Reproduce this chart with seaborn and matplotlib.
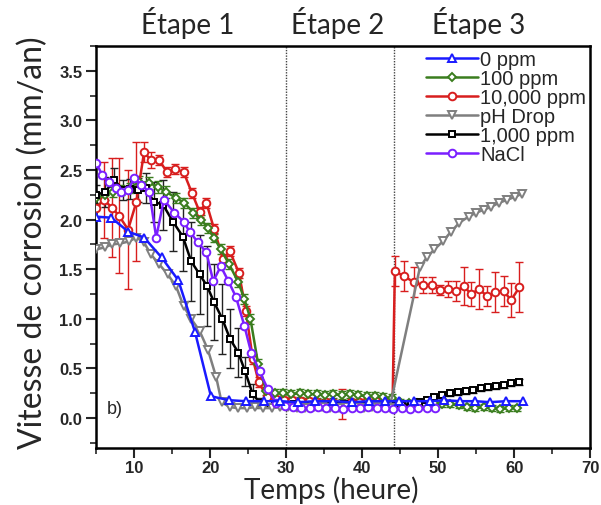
import matplotlib
matplotlib.use("Agg")
import matplotlib.pyplot as plt
from matplotlib.ticker import MultipleLocator
import seaborn as sns

# ---- data ----
# 0 ppm (blue)
t_0ppm = [5.0, 7.0, 9.2, 11.3, 13.6, 15.8, 18.0, 20.1, 22.5, 24.7,
          27.1, 29.2, 31.6, 33.8, 36.2, 38.6, 40.9, 43.0,
          44.9, 46.8, 48.9, 50.8, 52.9, 54.9, 56.8, 58.9, 61.1]
v_0ppm = [2.03, 2.02, 1.88, 1.82, 1.62, 1.39, 0.87, 0.22, 0.18, 0.17,
          0.17, 0.17, 0.16, 0.17, 0.17, 0.16, 0.17, 0.17,
          0.17, 0.17, 0.17, 0.18, 0.17, 0.17, 0.16, 0.17, 0.17]

# 100 ppm (green)
t_100ppm = [5.0, 6.1, 7.2, 8.3, 9.4, 10.7, 12.0, 13.1, 14.2, 15.5,
            16.6, 17.8, 18.8, 19.7, 20.5, 21.4, 22.5, 23.7, 24.5, 25.3,
            26.3, 27.4, 28.5, 29.6, 30.7, 31.8, 32.9, 34.0, 35.1, 36.2,
            37.3, 38.4, 39.5, 40.6, 41.7, 42.8, 43.9, 45.0, 46.1, 47.2,
            48.3, 49.4, 50.5, 51.6, 52.7, 53.8, 54.9, 56.0, 57.1, 58.2,
            59.3, 60.4]
v_100ppm = [2.22, 2.25, 2.28, 2.30, 2.32, 2.38, 2.37, 2.33, 2.28, 2.22,
            2.17, 2.07, 2.00, 1.92, 1.82, 1.70, 1.55, 1.37, 1.20, 1.00,
            0.55, 0.27, 0.25, 0.25, 0.24, 0.25, 0.24, 0.24, 0.23, 0.24,
            0.23, 0.24, 0.23, 0.22, 0.22, 0.21, 0.20, 0.16, 0.15, 0.15,
            0.14, 0.15, 0.14, 0.14, 0.13, 0.11, 0.10, 0.11, 0.10, 0.09,
            0.10, 0.10]
e_100ppm = [0.05, 0.05, 0.05, 0.05, 0.05, 0.06, 0.06, 0.06, 0.06, 0.05,
            0.05, 0.05, 0.05, 0.05, 0.05, 0.05, 0.05, 0.05, 0.05, 0.05,
            0.05, 0.04, 0.04, 0.04, 0.04, 0.04, 0.04, 0.04, 0.04, 0.04,
            0.04, 0.04, 0.04, 0.04, 0.04, 0.04, 0.04, 0.03, 0.03, 0.03,
            0.03, 0.03, 0.03, 0.03, 0.03, 0.03, 0.03, 0.03, 0.03, 0.03,
            0.03, 0.03]

# 10,000 ppm (red)
t_10000ppm = [5.0, 6.0, 7.1, 8.0, 9.2, 10.3, 11.3, 12.2, 13.3, 14.3,
              15.4, 16.5, 17.6, 18.6, 19.5, 20.5, 21.7, 22.6, 23.8, 24.7,
              25.6, 26.4, 27.5, 28.6, 29.7, 30.8, 31.9, 33.0, 34.1, 35.2,
              36.3, 37.4, 38.5, 39.6, 40.7, 41.8, 42.9, 44.0, 44.3, 45.5,
              46.8, 48.0, 49.2, 50.3, 51.3, 52.4, 53.4, 54.3, 55.4, 56.4,
              57.5, 58.6, 59.6, 60.7]
v_10000ppm = [2.12, 2.20, 2.12, 2.04, 1.90, 2.18, 2.68, 2.60, 2.60, 2.48,
              2.51, 2.48, 2.27, 2.08, 2.17, 1.91, 1.60, 1.68, 1.46, 1.08,
              0.60, 0.36, 0.21, 0.19, 0.18, 0.18, 0.17, 0.17, 0.16, 0.16,
              0.15, 0.14, 0.16, 0.16, 0.17, 0.17, 0.16, 0.15, 1.48, 1.43,
              1.37, 1.34, 1.34, 1.29, 1.30, 1.28, 1.33, 1.25, 1.30, 1.23,
              1.27, 1.28, 1.19, 1.32]
e_10000ppm = [0.10, 0.38, 0.50, 0.58, 0.60, 0.60, 0.10, 0.08, 0.05, 0.05,
              0.05, 0.05, 0.05, 0.05, 0.05, 0.05, 0.05, 0.05, 0.05, 0.05,
              0.05, 0.05, 0.03, 0.03, 0.03, 0.03, 0.03, 0.03, 0.03, 0.03,
              0.03, 0.15, 0.03, 0.03, 0.03, 0.03, 0.03, 0.03, 0.15, 0.15,
              0.15, 0.08, 0.08, 0.05, 0.08, 0.10, 0.19, 0.12, 0.20, 0.10,
              0.20, 0.15, 0.17, 0.25]

# pH Drop (grey)
t_ph = [5.0, 6.1, 7.1, 8.2, 9.3, 10.3, 11.3, 12.2, 13.3, 14.4,
        15.5, 16.5, 17.5, 18.6, 19.7, 20.8, 21.5, 22.6, 23.7, 24.8,
        25.9, 27.0, 28.1, 29.2, 30.3, 31.4, 32.5, 33.6, 34.7, 35.8,
        36.9, 38.0, 39.1, 40.2, 41.3, 42.4, 43.6, 47.6, 48.5, 49.5,
        50.6, 51.7, 52.8, 54.0, 55.0, 56.0, 57.0, 58.0, 59.1, 60.1,
        61.0]
v_ph = [1.70, 1.72, 1.75, 1.76, 1.78, 1.82, 1.77, 1.65, 1.55, 1.45,
        1.33, 1.13, 1.00, 0.88, 0.69, 0.41, 0.16, 0.11, 0.10, 0.10,
        0.11, 0.10, 0.10, 0.11, 0.11, 0.10, 0.10, 0.11, 0.11, 0.10,
        0.10, 0.11, 0.11, 0.10, 0.11, 0.11, 0.10, 1.52, 1.62, 1.70,
        1.78, 1.88, 1.97, 2.03, 2.07, 2.10, 2.13, 2.17, 2.20, 2.23,
        2.26]

# 1,000 ppm (black)
t_1000ppm = [5.0, 6.2, 7.4, 8.5, 9.4, 10.5, 11.5, 12.6, 13.8, 15.1,
             16.4, 17.5, 18.6, 19.6, 20.5, 21.6, 22.6, 23.7, 24.6, 25.6,
             26.6, 27.7, 28.8, 29.9, 31.0, 32.1, 33.2, 34.3, 35.4, 36.5,
             37.6, 38.7, 39.8, 40.9, 42.0, 43.1, 44.2, 45.3, 46.4, 47.5,
             48.5, 49.5, 50.5, 51.6, 52.6, 53.6, 54.6, 55.6, 56.6, 57.6,
             58.6, 59.6, 60.6]
v_1000ppm = [2.25, 2.28, 2.40, 2.30, 2.31, 2.30, 2.32, 2.18, 2.15, 1.98,
             1.83, 1.58, 1.45, 1.33, 1.17, 1.00, 0.80, 0.66, 0.47, 0.24,
             0.15, 0.14, 0.14, 0.13, 0.14, 0.13, 0.13, 0.14, 0.13, 0.13,
             0.14, 0.13, 0.13, 0.13, 0.14, 0.13, 0.12, 0.13, 0.14, 0.16,
             0.18, 0.21, 0.23, 0.25, 0.26, 0.27, 0.28, 0.30, 0.31, 0.32,
             0.33, 0.35, 0.36]
e_1000ppm = [0.10, 0.15, 0.12, 0.10, 0.10, 0.12, 0.15, 0.20, 0.25, 0.30,
             0.35, 0.40, 0.40, 0.40, 0.38, 0.35, 0.30, 0.25, 0.15, 0.10,
             0.05, 0.03, 0.03, 0.03, 0.03, 0.03, 0.03, 0.03, 0.03, 0.03,
             0.03, 0.03, 0.03, 0.03, 0.03, 0.03, 0.03, 0.03, 0.03, 0.03,
             0.03, 0.03, 0.03, 0.03, 0.03, 0.03, 0.03, 0.03, 0.03, 0.03,
             0.03, 0.03, 0.03]

# NaCl (purple)
t_nacl = [5.0, 5.8, 6.7, 7.6, 8.3, 9.2, 10.0, 10.9, 12.0, 12.9,
          13.9, 15.3, 16.5, 17.3, 18.4, 19.5, 20.4, 21.4, 22.4, 23.4,
          24.5, 25.4, 26.5, 27.6, 28.7, 29.8, 30.9, 32.0, 33.1, 34.2,
          35.3, 36.4, 37.5, 38.6, 39.7, 40.8, 41.9, 43.0, 44.1, 45.2,
          46.3, 47.4, 48.5, 49.6]
v_nacl = [2.57, 2.45, 2.38, 2.32, 2.28, 2.30, 2.42, 2.35, 2.28, 1.82,
          2.20, 2.07, 1.98, 1.88, 1.77, 1.67, 1.38, 1.53, 1.38, 1.22,
          0.93, 0.66, 0.47, 0.29, 0.15, 0.12, 0.11, 0.10, 0.10, 0.11,
          0.10, 0.10, 0.09, 0.10, 0.10, 0.11, 0.10, 0.10, 0.09, 0.10,
          0.09, 0.10, 0.10, 0.10]

legend_order = ["0 ppm", "100 ppm", "10,000 ppm", "pH Drop", "1,000 ppm", "NaCl"]
stage_labels = ["Étape 1", "Étape 2", "Étape 3"]
stage_pos = [17.1, 36.8, 55.3]
stage_bounds = [30.0, 44.2]

sns.set_style("ticks")
plt.rcParams['font.family'] = ['Liberation Sans', 'DejaVu Sans']

fig = plt.figure(figsize=(6.01, 5.06), dpi=100)
ax = fig.add_axes([0.16, 0.113, 0.822, 0.794])

# error bars first
ax.errorbar(t_10000ppm, v_10000ppm, yerr=e_10000ppm, fmt='none', ecolor='#d81e1e',
            elinewidth=1.0, capsize=3, capthick=1.0, zorder=2)
ax.errorbar(t_1000ppm, v_1000ppm, yerr=e_1000ppm, fmt='none', ecolor='#222222',
            elinewidth=1.0, capsize=3, capthick=1.0, zorder=2)
ax.errorbar(t_100ppm, v_100ppm, yerr=e_100ppm, fmt='none', ecolor='#3a7d1e',
            elinewidth=1.0, capsize=3, capthick=1.0, zorder=2)

series = [
    ("10,000 ppm", t_10000ppm, v_10000ppm, '#d81e1e', 'o', 5.5),
    ("100 ppm", t_100ppm, v_100ppm, '#3a7d1e', 'D', 4.5),
    ("1,000 ppm", t_1000ppm, v_1000ppm, '#000000', 's', 4.5),
    ("pH Drop", t_ph, v_ph, '#7f7f7f', 'v', 5.8),
    ("NaCl", t_nacl, v_nacl, '#7a1fff', 'o', 5.5),
    ("0 ppm", t_0ppm, v_0ppm, '#1a1aff', '^', 5.8),
]
for name, t, v, c, m, ms in series:
    sns.lineplot(x=t, y=v, ax=ax, color=c, marker=m, markersize=ms,
                 markerfacecolor='white', markeredgecolor=c, markeredgewidth=1.4,
                 linewidth=1.8, sort=False, estimator=None, label=name, zorder=3)

for xb in stage_bounds:
    ax.axvline(xb, color='#444444', linestyle=(0, (1, 1)), linewidth=1.0, zorder=1)

ax.set_xlim(5, 70)
ax.set_ylim(-0.3, 3.75)
ax.xaxis.set_major_locator(MultipleLocator(10))
ax.xaxis.set_minor_locator(MultipleLocator(5))
ax.yaxis.set_minor_locator(MultipleLocator(0.25))
ax.set_yticks([0, 0.5, 1.0, 1.5, 2.0, 2.5, 3.0, 3.5])
ax.tick_params(which='major', direction='out', length=7.5, width=1.5, labelsize=12, pad=2.5)
ax.tick_params(axis='x', which='major', pad=1.5)
ax.tick_params(which='minor', direction='out', length=4.5, width=1.2)
for lab in ax.get_xticklabels() + ax.get_yticklabels():
    lab.set_fontweight('bold')
for sp in ax.spines.values():
    sp.set_visible(True)
    sp.set_linewidth(1.8)
    sp.set_color('black')

label_font = ['Lato', 'DejaVu Sans']
ax.set_xlabel("Temps (heure)", fontsize=20, family=label_font, labelpad=0.3)
ax.xaxis.label.set_x(0.476)
ax.set_ylabel("Vitesse de corrosion (mm/an)", fontsize=23, family=label_font)
ax.yaxis.set_label_coords(-0.098, 0.512)

for s, xp in zip(stage_labels, stage_pos):
    ax.text(xp, 1.02, s, transform=ax.get_xaxis_transform(), ha='center', va='bottom',
            fontsize=20, family=label_font)

ax.text(7.4, 0.1, "b)", fontsize=13, ha='center', va='center')

handles, labels = ax.get_legend_handles_labels()
hmap = dict(zip(labels, handles))
ax.legend([hmap[k] for k in legend_order], legend_order, loc='upper right',
          frameon=False, fontsize=14.5, handlelength=2.6, handletextpad=0.1,
          labelspacing=0.0, borderaxespad=0.1, borderpad=0.1)

fig.savefig("out.png", dpi=100)
